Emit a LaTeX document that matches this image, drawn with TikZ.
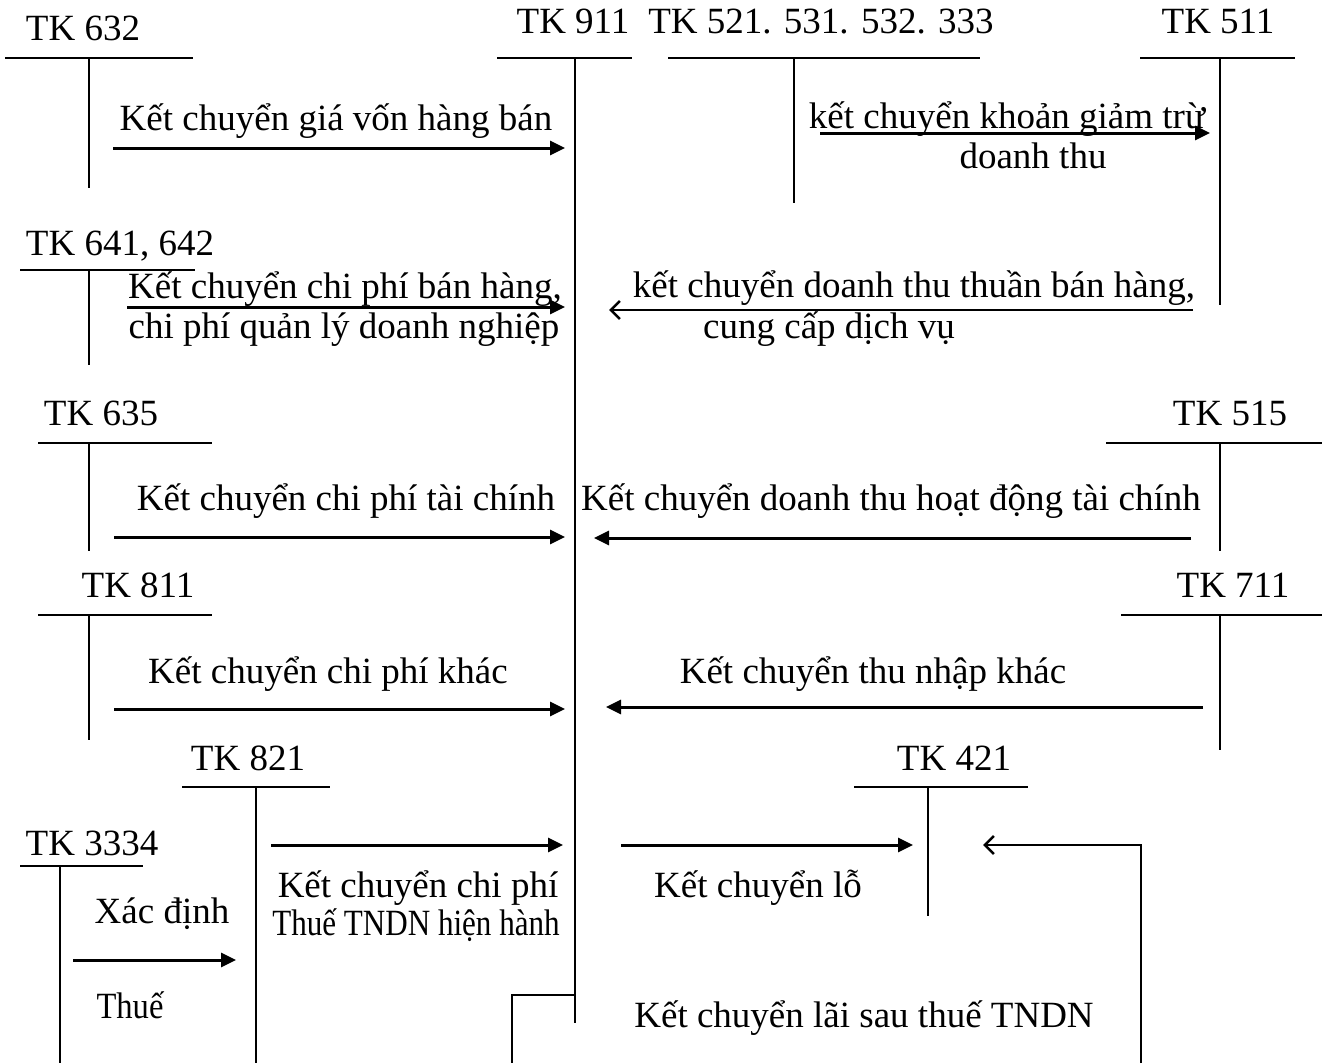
\documentclass[tikz,border=0pt]{standalone}
\usepackage{fontspec}
\usepackage{graphicx}
\setmainfont{Liberation Serif}
\usetikzlibrary{arrows.meta}
\begin{document}
\begin{tikzpicture}[x=1pt,y=-1pt,
  lbl/.style={anchor=base, inner sep=0pt, font=\fontsize{37}{41}\selectfont},
  tline/.style={line width=2pt},
  farrow/.style={line width=3pt, -{Triangle[length=15pt,width=14pt]}},
  oarrow/.style={line width=2.6pt, -{Straight Barb[length=9pt,width=18pt,line width=2.6pt]}},
  thin/.style={line width=2pt}]
\useasboundingbox[fill=white] (0,0) rectangle (1322,1063);

% ---------- account labels ----------
\node[lbl] (l632) at (83,40) {TK 632};
\node[lbl] (l911) at (573,33) {TK 911};
\node[lbl] (l521) at (821,33) {TK 521. 531. 532. 333};
\node[lbl] (l511) at (1218,33) {TK 511};
\node[lbl] (l641) at (120,255) {TK 641, 642};
\node[lbl] (l635) at (101,425) {TK 635};
\node[lbl] (l515) at (1230,425) {TK 515};
\node[lbl] (l811) at (138,597) {TK 811};
\node[lbl] (l711) at (1233,597) {TK 711};
\node[lbl] (l821) at (248,770) {TK 821};
\node[lbl] (l3334) at (92,855) {TK 3334};
\node[lbl] (l421) at (954,770) {TK 421};

% ---------- T accounts ----------
\draw[tline] (5,58) -- (193,58);      \draw[tline] (89,58) -- (89,188);
\draw[tline] (497,58) -- (632,58);    \draw[tline] (575,58) -- (575,1023);
\draw[tline] (668,58) -- (980,58);    \draw[tline] (794,58) -- (794,203);
\draw[tline] (1140,58) -- (1295,58);  \draw[tline] (1220,58) -- (1220,305);
\draw[tline] (20,270) -- (195,270);   \draw[tline] (89,270) -- (89,365);
\draw[tline] (38,443) -- (212,443);   \draw[tline] (89,443) -- (89,551);
\draw[tline] (1106,443) -- (1322,443);\draw[tline] (1220,443) -- (1220,551);
\draw[tline] (38,615) -- (212,615);   \draw[tline] (89,615) -- (89,740);
\draw[tline] (1121,615) -- (1322,615);\draw[tline] (1220,615) -- (1220,750);
\draw[tline] (182,787) -- (330,787);  \draw[tline] (256,787) -- (256,1063);
\draw[tline] (20,866) -- (143,866);   \draw[tline] (60,866) -- (60,1063);
\draw[tline] (854,787) -- (1028,787); \draw[tline] (928,787) -- (928,916);

% ---------- arrow end points ----------
\coordinate (a1s) at (113,148);  \coordinate (a1e) at (565,148);
\coordinate (a2s) at (820,133);  \coordinate (a2e) at (1210,133);
\coordinate (a3s) at (127,307);  \coordinate (a3e) at (565,307);
\coordinate (a4s) at (1193,310); \coordinate (a4e) at (609,310);
\coordinate (a5s) at (114,537);  \coordinate (a5e) at (565,537);
\coordinate (a6s) at (1191,538); \coordinate (a6e) at (594,538);
\coordinate (a7s) at (114,709);  \coordinate (a7e) at (565,709);
\coordinate (a8s) at (1203,707); \coordinate (a8e) at (606,707);
\coordinate (a9s) at (271,845);  \coordinate (a9e) at (563,845);
\coordinate (a10s) at (73,960);  \coordinate (a10e) at (236,960);
\coordinate (a11s) at (621,845); \coordinate (a11e) at (913,845);
\coordinate (a12s) at (1141,1063); \coordinate (a12m) at (1141,845); \coordinate (a12e) at (983,845);
\coordinate (b1) at (575,995); \coordinate (b2) at (512,995); \coordinate (b3) at (512,1063);

\draw[farrow] (a1s) -- (a1e);
\draw[farrow] (a2s) -- (a2e);
\draw[farrow] (a3s) -- (a3e);
\draw[oarrow] (a4s) -- (a4e);
\draw[farrow] (a5s) -- (a5e);
\draw[farrow] (a6s) -- (a6e);
\draw[farrow] (a7s) -- (a7e);
\draw[farrow] (a8s) -- (a8e);
\draw[farrow] (a9s) -- (a9e);
\draw[farrow] (a10s) -- (a10e);
\draw[farrow] (a11s) -- (a11e);
\draw[oarrow] (a12s) -- (a12m) -- (a12e);
\draw[thin] (b1) -- (b2) -- (b3);

% ---------- arrow texts ----------
\node[lbl] (t1) at (336,130) {Kết chuyển giá vốn hàng bán};
\node[lbl] (t2a) at (1007,128) {kết chuyển khoản giảm trừ};
\node[lbl] (t2b) at (1033,168) {doanh thu};
\node[lbl] (t3a) at (345,298) {Kết chuyển chi phí bán hàng,};
\node[lbl] (t3b) at (344,338) {chi phí quản lý doanh nghiệp};
\node[lbl] (t4a) at (914,297) {kết chuyển doanh thu thuần bán hàng,};
\node[lbl] (t4b) at (829,338) {cung cấp dịch vụ};
\node[lbl] (t5) at (346,510) {Kết chuyển chi phí tài chính};
\node[lbl] (t6) at (891,510) {Kết chuyển doanh thu hoạt động tài chính};
\node[lbl] (t7) at (328,683) {Kết chuyển chi phí khác};
\node[lbl] (t8) at (873,683) {Kết chuyển thu nhập khác};
\node[lbl] (t9a) at (418,897) {Kết chuyển chi phí};
\node[lbl] (t9b) at (416,935) {\scalebox{0.84}[1]{Thuế TNDN hiện hành}};
\node[lbl] (t10a) at (162,923) {Xác định};
\node[lbl] (t10b) at (130,1018) {\scalebox{0.88}[1]{Thuế}};
\node[lbl] (t11) at (758,897) {Kết chuyển lỗ};
\node[lbl] (t12) at (864,1027) {Kết chuyển lãi sau thuế TNDN};
\end{tikzpicture}
\end{document}
